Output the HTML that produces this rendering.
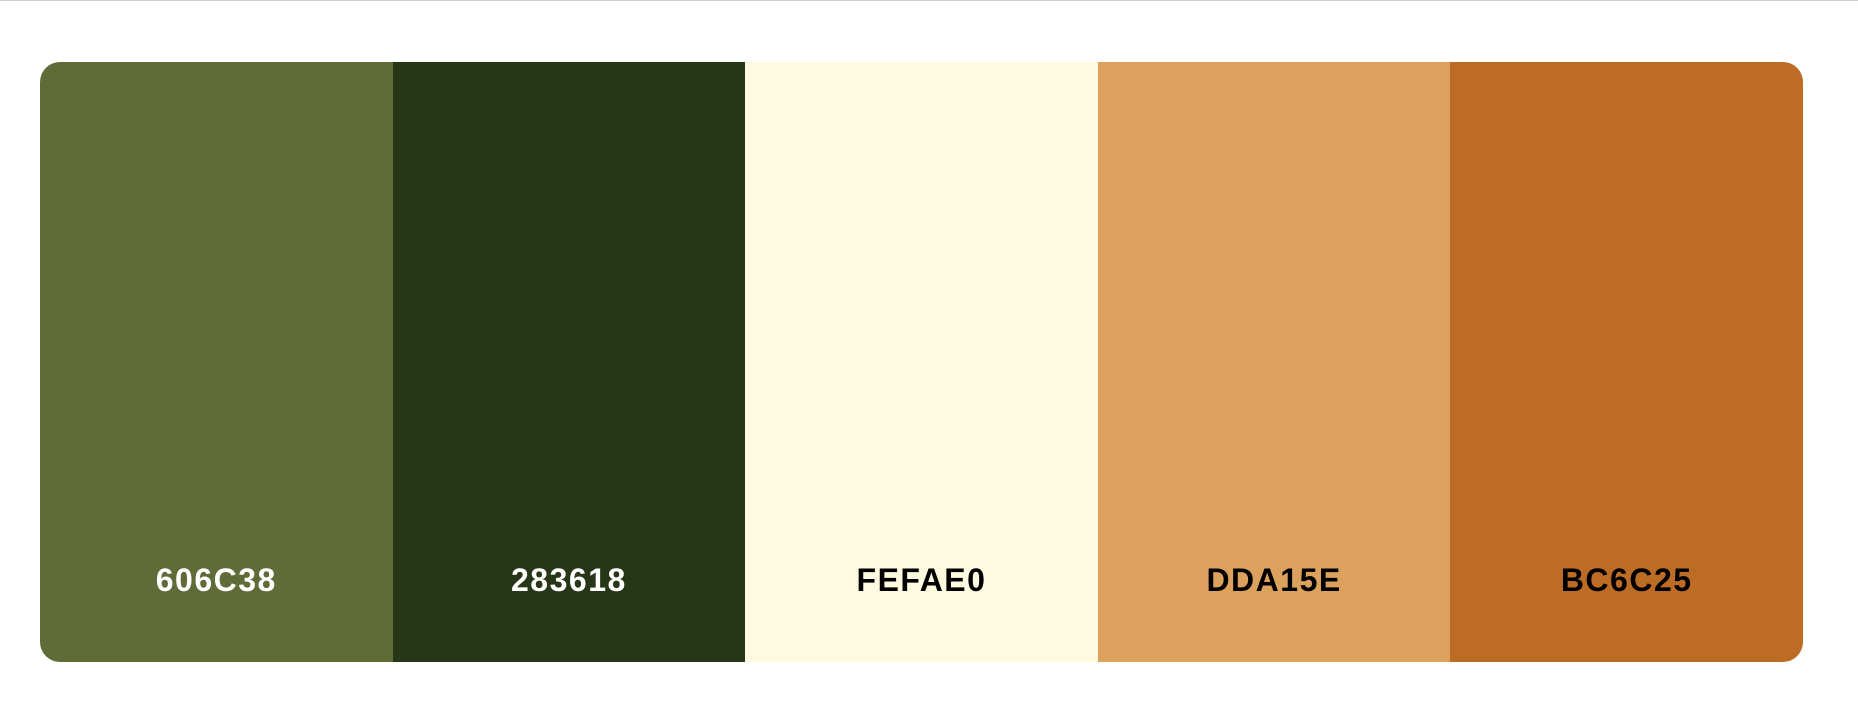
<!DOCTYPE html>
<html><head><meta charset="utf-8"><style>
html,body{margin:0;padding:0;background:#fff;width:1858px;height:727px;overflow:hidden;font-family:"Liberation Sans",sans-serif}
.topline{position:absolute;left:0;top:0;width:1858px;height:1px;background:#d0d0d0}
.palette{position:absolute;left:40px;top:62px;width:1763px;height:600px;border-radius:20px;overflow:hidden;display:flex}
.sw{flex:1;position:relative}
.sw span{position:absolute;left:0;right:0;top:500px;text-align:center;font-size:32px;font-weight:bold;line-height:36px;letter-spacing:1.5px}
</style></head><body>
<div class="topline"></div>
<div class="palette">
<div class="sw" style="background:#606C38"><span style="color:#fff">606C38</span></div>
<div class="sw" style="background:#283618"><span style="color:#fff">283618</span></div>
<div class="sw" style="background:#FEFAE0"><span style="color:#000">FEFAE0</span></div>
<div class="sw" style="background:#DDA15E"><span style="color:#000">DDA15E</span></div>
<div class="sw" style="background:#BC6C25"><span style="color:#000">BC6C25</span></div>
</div>
</body></html>
